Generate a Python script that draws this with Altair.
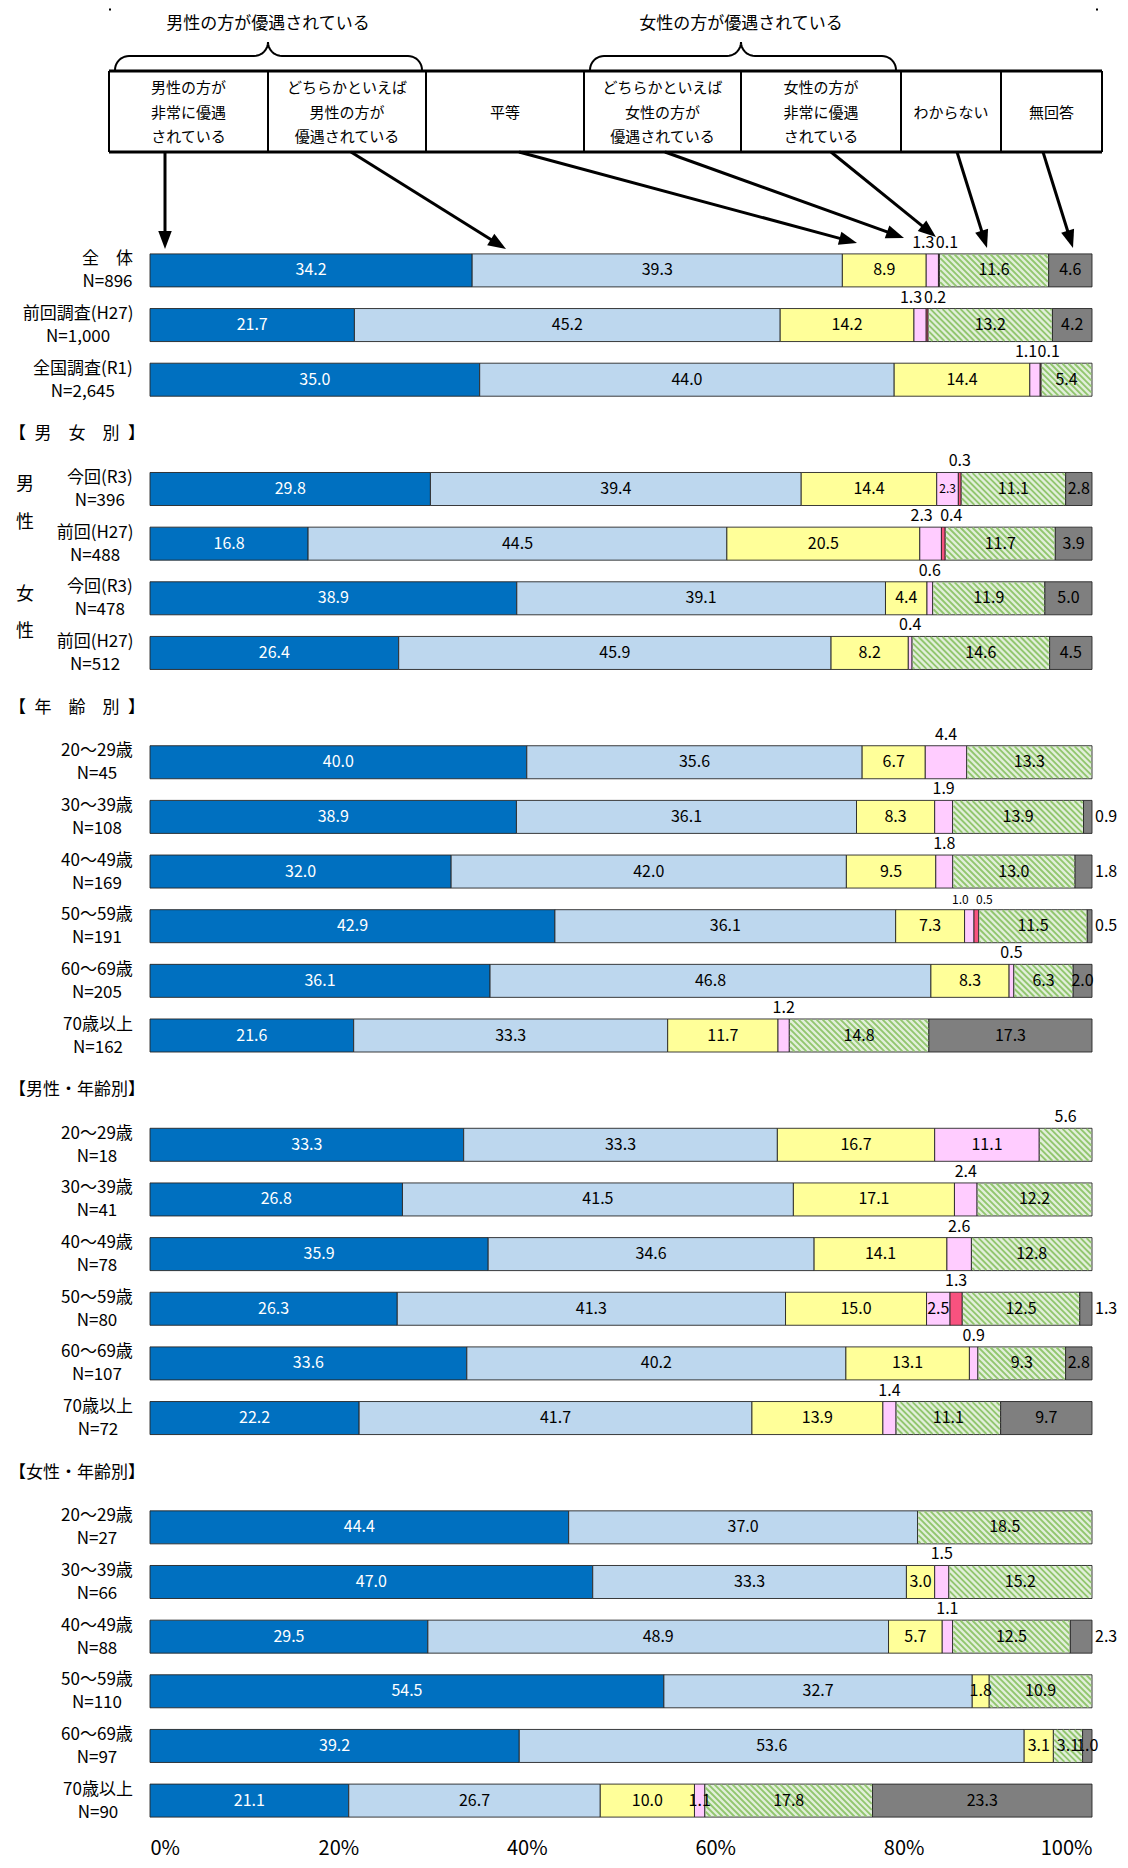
import math
import altair as alt
import pandas as pd

FONT = "Noto Sans CJK JP"

# ------------------------------------------------------------------ data
categories = ["男性の方が非常に優遇されている", "どちらかといえば男性の方が優遇されている", "平等",
              "どちらかといえば女性の方が優遇されている", "女性の方が非常に優遇されている",
              "わからない", "無回答"]
legend_lines = [["男性の方が", "非常に優遇", "されている"],
                ["どちらかといえば", "男性の方が", "優遇されている"],
                ["平等"],
                ["どちらかといえば", "女性の方が", "優遇されている"],
                ["女性の方が", "非常に優遇", "されている"],
                ["わからない"],
                ["無回答"]]
group_titles = ["男性の方が優遇されている", "女性の方が優遇されている"]
section_titles = ["【\u2002男\u2003女\u2003別\u2002】", "【\u2002年\u2003齢\u2003別\u2002】",
                  "【男性・年齢別】", "【女性・年齢別】"]
sex_labels = ["男", "性", "女", "性"]

ages = ["20～29歳", "30～39歳", "40～49歳", "50～59歳", "60～69歳", "70歳以上"]
row_name = ["全　体", "前回調査(H27)", "全国調査(R1)",
            "今回(R3)", "前回(H27)", "今回(R3)", "前回(H27)"] + ages + ages + ages
row_n = ["N=896", "N=1,000", "N=2,645",
         "N=396", "N=488", "N=478", "N=512",
         "N=45", "N=108", "N=169", "N=191", "N=205", "N=162",
         "N=18", "N=41", "N=78", "N=80", "N=107", "N=72",
         "N=27", "N=66", "N=88", "N=110", "N=97", "N=90"]

very_male = [34.2, 21.7, 35.0, 29.8, 16.8, 38.9, 26.4,
             40.0, 38.9, 32.0, 42.9, 36.1, 21.6,
             33.3, 26.8, 35.9, 26.3, 33.6, 22.2,
             44.4, 47.0, 29.5, 54.5, 39.2, 21.1]
some_male = [39.3, 45.2, 44.0, 39.4, 44.5, 39.1, 45.9,
             35.6, 36.1, 42.0, 36.1, 46.8, 33.3,
             33.3, 41.5, 34.6, 41.3, 40.2, 41.7,
             37.0, 33.3, 48.9, 32.7, 53.6, 26.7]
equal = [8.9, 14.2, 14.4, 14.4, 20.5, 4.4, 8.2,
         6.7, 8.3, 9.5, 7.3, 8.3, 11.7,
         16.7, 17.1, 14.1, 15.0, 13.1, 13.9,
         0.0, 3.0, 5.7, 1.8, 3.1, 10.0]
some_female = [1.3, 1.3, 1.1, 2.3, 2.3, 0.6, 0.4,
               4.4, 1.9, 1.8, 1.0, 0.5, 1.2,
               11.1, 2.4, 2.6, 2.5, 0.9, 1.4,
               0.0, 1.5, 1.1, 0.0, 0.0, 1.1]
very_female = [0.1, 0.2, 0.1, 0.3, 0.4, 0.0, 0.0,
               0.0, 0.0, 0.0, 0.5, 0.0, 0.0,
               0.0, 0.0, 0.0, 1.3, 0.0, 0.0,
               0.0, 0.0, 0.0, 0.0, 0.0, 0.0]
unknown = [11.6, 13.2, 5.4, 11.1, 11.7, 11.9, 14.6,
           13.3, 13.9, 13.0, 11.5, 6.3, 14.8,
           5.6, 12.2, 12.8, 12.5, 9.3, 11.1,
           18.5, 15.2, 12.5, 10.9, 3.1, 17.8]
no_answer = [4.6, 4.2, 0.0, 2.8, 3.9, 5.0, 4.5,
             0.0, 0.9, 1.8, 0.5, 2.0, 17.3,
             0.0, 0.0, 0.0, 1.3, 2.8, 9.7,
             0.0, 0.0, 2.3, 0.0, 1.0, 23.3]
x_ticks = [0, 20, 40, 60, 80, 100]

# ------------------------------------------------------------------ layout / style
colors = ["#0070C0", "#BDD7EE", "#FFFF99", "#FFCCFF", "#F8527F", "#E2EFDA", "#7F7F7F"]
HATCH_COLOR = "#92C66F"
row_slot = [0, 1, 2, 4, 5, 6, 7, 9, 10, 11, 12, 13, 14,
            16, 17, 18, 19, 20, 21, 23, 24, 25, 26, 27, 28]
section_slot = [3, 8, 15, 22]
sex_slot = [4 - 0.07, 4.62, 6 - 0.06, 6.62]

PLOT_W, PLOT_H = 942, 1816
LEFT_PAGE, TOP_PAGE = 150, 8
SLOT0, PITCH, HALF = 270.4, 54.65, 0.302
PX = PLOT_W / 100.0
ROW_FS = 17
VAL_FS = 16


def ux(page_x):
    return (page_x - LEFT_PAGE) / PX


def uy(page_y):
    return (page_y - SLOT0) / PITCH


def text_w(s, fs):
    w = 0.0
    for ch in s:
        if ord(ch) >= 0x2E80 or ch in "～　":
            w += 1.0
        elif ch in "(),.":
            w += 0.32
        elif ch.isdigit() or ch == "=":
            w += 0.56
        else:
            w += 0.7
    return w * fs


xs = alt.Scale(domain=[0, 100], nice=False, zero=False)
ys = alt.Scale(domain=[uy(TOP_PAGE + PLOT_H), uy(TOP_PAGE)], nice=False, zero=False)
X_AX = alt.Axis(values=x_ticks, labelExpr="datum.value + '%'", title=None, domain=False,
                ticks=False, grid=False, labelFontSize=20, labelFont=FONT, labelColor="black",
                labelPadding=14, labelFontWeight="normal")


def X(f):
    return alt.X(f, scale=xs, axis=X_AX)


def Y(f):
    return alt.Y(f, scale=ys, axis=None)


# label placement rules (style, not data)
OVERRIDE = {(3, 3): "inside", (16, 3): "inside", (11, 6): "inside",
            (23, 6): "inside", (24, 3): "inside", (13, 5): "above"}
SMALL = {(3, 3), (10, 3), (10, 4)}


def placement(r, c, v):
    if v <= 0:
        return None
    if (r, c) in OVERRIDE:
        return OVERRIDE[(r, c)]
    if c in (3, 4):
        return "inside" if v >= 5 else "above"
    if c == 6:
        return "inside" if v >= 2.5 else "right"
    return "inside"


series = [very_male, some_male, equal, some_female, very_female, unknown, no_answer]
bar_recs, lab_recs = [], []
for r in range(len(row_name)):
    vals = [s[r] for s in series]
    tot = sum(vals)
    cum = 0.0
    pl = [placement(r, c, v) for c, v in enumerate(vals)]
    both_above = pl[3] == "above" and pl[4] == "above"
    for c, v in enumerate(vals):
        if v > 0:
            x0 = cum / tot * 100
            x1 = (cum + v) / tot * 100
            s = row_slot[r]
            bar_recs.append(dict(row=r, ci=c, cat=categories[c], x0=x0, x1=x1,
                                 y0=s - HALF, y1=s + HALF, slot=s))
            p = pl[c]
            fs = 12 if (r, c) in SMALL else VAL_FS
            txt = f"{v:.1f}"
            if p == "inside":
                lab_recs.append(dict(kind="in", lx=(x0 + x1) / 2, ly=s, t=txt,
                                     col="white" if c == 0 else "black", fs=fs))
            elif p == "above":
                off = 0.0
                if both_above:
                    off = -9 / PX if c == 3 else 8 / PX
                lab_recs.append(dict(kind="above", lx=(x0 + x1) / 2 + off, ly=s - HALF, t=txt,
                                     col="black", fs=fs))
            elif p == "right":
                lab_recs.append(dict(kind="right", lx=100 + 3 / PX, ly=s, t=txt,
                                     col="black", fs=fs))
        cum += v

bars = pd.DataFrame(bar_recs)
labs = pd.DataFrame(lab_recs)

# hatch stripes for the わからない segments
SP = 6.0
bh = 2 * HALF * PITCH
hatch = []
for rec in bar_recs:
    if rec["ci"] != 5:
        continue
    a_px = rec["x0"] * PX + 0.8
    b_px = rec["x1"] * PX - 0.8
    top = rec["y0"]
    a = math.floor((a_px - bh) / SP) * SP
    while a < b_px:
        t0 = max(0.6, a_px - a)
        t1 = min(bh - 0.6, b_px - a)
        if t1 > t0:
            hatch.append(dict(hx=(a + t0) / PX, hy=top + t0 / PITCH,
                              hx2=(a + t1) / PX, hy2=top + t1 / PITCH))
        a += SP
hatch = pd.DataFrame(hatch)

bar_layer = alt.Chart(bars).mark_bar(stroke="#262626", strokeWidth=0.9).encode(
    x=X("x0:Q"), x2="x1:Q", y=Y("y0:Q"), y2="y1:Q",
    fill=alt.Fill("cat:N", scale=alt.Scale(domain=categories, range=colors), legend=None),
)
hatch_layer = alt.Chart(hatch).mark_rule(color=HATCH_COLOR, strokeWidth=1.9).encode(
    x=X("hx:Q"), x2="hx2:Q", y=Y("hy:Q"), y2="hy2:Q")


def lab_layer(kind, **mk):
    d = labs[labs.kind == kind]
    return alt.Chart(d).mark_text(font=FONT, **mk).encode(
        x=X("lx:Q"), y=Y("ly:Q"), text="t:N",
        color=alt.Color("col:N", scale=None), size=alt.Size("fs:Q", scale=None))


in_layer = lab_layer("in", align="center", baseline="middle")
above_layer = lab_layer("above", align="center", baseline="bottom", dy=-3)
right_layer = lab_layer("right", align="left", baseline="middle")

# row labels: block right-aligned at page x 133, lines centred within the block
ROW_RIGHT = 133
row_cx = []
for a_, b_ in zip(row_name, row_n):
    W = max(text_w(a_, ROW_FS), text_w(b_, ROW_FS))
    row_cx.append(ux(ROW_RIGHT - W / 2))
rows = pd.DataFrame(dict(name=row_name, n=row_n, slot=row_slot, cx=row_cx))
row1 = alt.Chart(rows).mark_text(font=FONT, fontSize=ROW_FS, align="center", baseline="middle",
                                 dy=-11, color="black").encode(
    x=X("cx:Q"), y=Y("slot:Q"), text="name:N")
row2 = alt.Chart(rows).mark_text(font=FONT, fontSize=ROW_FS, align="center", baseline="middle",
                                 dy=12, color="black").encode(
    x=X("cx:Q"), y=Y("slot:Q"), text="n:N")

secs = pd.DataFrame(dict(t=section_titles, slot=section_slot))
sec_layer = alt.Chart(secs).mark_text(font=FONT, fontSize=17, align="left", baseline="middle",
                                      color="black").encode(
    x=alt.value(-141), y=Y("slot:Q"), text="t:N")
sexs = pd.DataFrame(dict(t=sex_labels, slot=sex_slot))
sex_layer = alt.Chart(sexs).mark_text(font=FONT, fontSize=18, align="center", baseline="middle",
                                      color="black").encode(
    x=alt.value(-125), y=Y("slot:Q"), text="t:N")

# ------------------------------------------------------------------ legend diagram
cell_edges = [109, 268, 426, 584, 741, 901, 1001, 1102]
BOX_T, BOX_B = 71, 152
hl = pd.DataFrame(dict(x=[ux(cell_edges[0])] * 2, x2=[ux(cell_edges[-1])] * 2,
                       y=[uy(BOX_T), uy(BOX_B)], y2=[uy(BOX_T), uy(BOX_B)]))
vl = pd.DataFrame(dict(x=[ux(e) for e in cell_edges], x2=[ux(e) for e in cell_edges],
                       y=[uy(BOX_T)] * len(cell_edges), y2=[uy(BOX_B)] * len(cell_edges)))
hl_layer = alt.Chart(hl).mark_rule(color="black", strokeWidth=3).encode(
    x=X("x:Q"), x2="x2:Q", y=Y("y:Q"), y2="y2:Q")
vl_layer = alt.Chart(vl).mark_rule(color="black", strokeWidth=2).encode(
    x=X("x:Q"), x2="x2:Q", y=Y("y:Q"), y2="y2:Q")

cell_txt = []
line_y3 = [88, 113, 137]
for i, lines in enumerate(legend_lines):
    cx = (cell_edges[i] + cell_edges[i + 1]) / 2
    ys_ = line_y3 if len(lines) == 3 else [113]
    for t, yy in zip(lines, ys_):
        cell_txt.append(dict(x=ux(cx), y=uy(yy), t=t))
cell_layer = alt.Chart(pd.DataFrame(cell_txt)).mark_text(
    font=FONT, fontSize=15, align="center", baseline="middle", color="black").encode(
    x=X("x:Q"), y=Y("y:Q"), text="t:N")

gt = pd.DataFrame(dict(x=[ux(268), ux(741)], y=[uy(24), uy(24)], t=group_titles))
gt_layer = alt.Chart(gt).mark_text(font=FONT, fontSize=17, align="center", baseline="middle",
                                   color="black").encode(x=X("x:Q"), y=Y("y:Q"), text="t:N")


def brace(bid, x0, x1, xc, y_end=70, y_h=56, y_peak=42, n=10):
    R1 = y_end - y_h
    R2 = y_h - y_peak
    pts = []
    for k in range(n + 1):
        t = math.pi / 2 * k / n
        pts.append((x0 + R1 - R1 * math.cos(t), y_end - R1 * math.sin(t)))
    for k in range(n + 1):
        t = math.pi / 2 * k / n
        pts.append((xc - R2 + R2 * math.sin(t), y_peak + R2 * math.cos(t)))
    for k in range(n + 1):
        t = math.pi / 2 * k / n
        pts.append((xc + R2 - R2 * math.cos(t), y_peak + R2 * math.sin(t)))
    for k in range(n + 1):
        t = math.pi / 2 * k / n
        pts.append((x1 - R1 + R1 * math.sin(t), y_end - R1 * math.cos(t)))
    return [dict(b=bid, i=j, x=ux(px), y=uy(py)) for j, (px, py) in enumerate(pts)]


br = pd.DataFrame(brace("L", 115, 422, 268) + brace("R", 590, 896, 741))
br_layer = alt.Chart(br).mark_line(color="black", strokeWidth=2).encode(
    x=X("x:Q"), y=Y("y:Q"), order=alt.Order("i:Q"), detail="b:N")

arrow_start = [(165, 152), (351, 152), (519, 152), (665, 152), (831, 152), (957, 152), (1043, 152)]
arrow_end = [(165, 249), (506, 249), (857, 243), (904, 238), (936, 237), (987, 248), (1073, 248)]
HEAD = 18
shafts, heads = [], []
for (sx, sy), (ex, ey) in zip(arrow_start, arrow_end):
    L = math.hypot(ex - sx, ey - sy)
    ddx, ddy = (ex - sx) / L, (ey - sy) / L
    bx, by = ex - ddx * (HEAD - 3), ey - ddy * (HEAD - 3)
    shafts.append(dict(x=ux(sx), y=uy(sy), x2=ux(bx), y2=uy(by)))
    cx, cy = ex - ddx * HEAD / 2, ey - ddy * HEAD / 2
    ang = (math.degrees(math.atan2(-ddx, ddy)) + 360) % 360
    heads.append(dict(x=ux(cx), y=uy(cy), ang=ang))
shaft_layer = alt.Chart(pd.DataFrame(shafts)).mark_rule(color="black", strokeWidth=3).encode(
    x=X("x:Q"), x2="x2:Q", y=Y("y:Q"), y2="y2:Q")
head_layer = alt.Chart(pd.DataFrame(heads)).mark_point(
    shape="M0,1L-0.75,-1L0.75,-1Z", filled=True, size=HEAD * HEAD, color="black",
    opacity=1, strokeWidth=0).encode(
    x=X("x:Q"), y=Y("y:Q"), angle=alt.Angle("ang:Q", scale=None))

dots = pd.DataFrame(dict(x=[ux(110), ux(1097)], y=[uy(9.5), uy(9.5)]))
dot_layer = alt.Chart(dots).mark_square(size=4, color="black", opacity=1).encode(
    x=X("x:Q"), y=Y("y:Q"))

chart = alt.layer(
    bar_layer, hatch_layer, in_layer, above_layer, right_layer,
    row1, row2, sec_layer, sex_layer,
    hl_layer, vl_layer, cell_layer, gt_layer, br_layer, shaft_layer, head_layer, dot_layer,
).properties(
    width=PLOT_W, height=PLOT_H,
    padding={"left": 142, "top": 0, "right": 28, "bottom": 36},
    autosize=alt.AutoSizeParams(type="none"),
    background="white",
).configure_view(stroke=None)

chart.save("out.html", embed_options={"renderer": "svg", "actions": False})
